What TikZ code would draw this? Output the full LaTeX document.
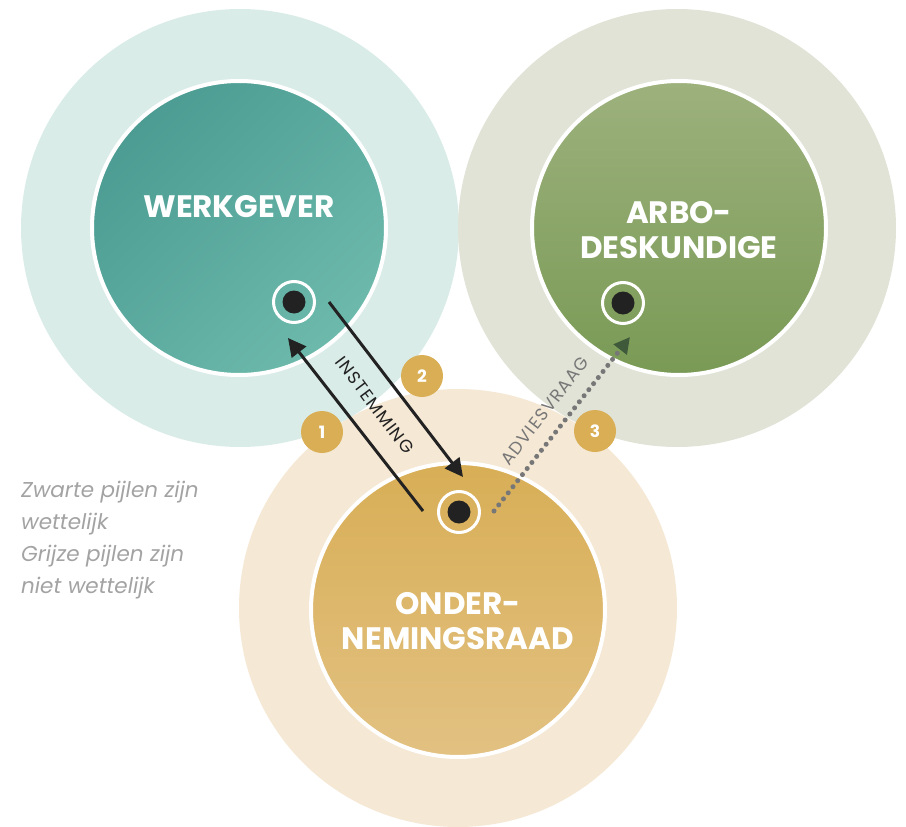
\documentclass[tikz,border=0pt]{standalone}
\usepackage{fontspec}
\setmainfont{Poppins}
\usetikzlibrary{arrows.meta}

\definecolor{wgHalo}{HTML}{DAECE8}
\definecolor{wgDark}{HTML}{4C9C93}
\definecolor{wgLight}{HTML}{6DBAAC}
\definecolor{arHalo}{HTML}{E0E3D6}
\definecolor{arTop}{HTML}{9DB17D}
\definecolor{arBot}{HTML}{799A55}
\definecolor{orHalo}{HTML}{F5E8D5}
\definecolor{orTop}{HTML}{D8AE56}
\definecolor{orBot}{HTML}{E2C182}
\definecolor{badge}{HTML}{D9AE55}
\definecolor{dotInk}{HTML}{222222}
\definecolor{dotGrey}{HTML}{777777}
\definecolor{tipGreen}{HTML}{3F5A3A}
\definecolor{legendGrey}{HTML}{A3A3A3}

\tikzset{
  halo/.style={circle, minimum size=438pt, inner sep=0pt},
  core/.style={circle, minimum size=294pt, inner sep=0pt, draw=white, line width=4pt},
  title/.style={text=white, font=\bfseries\fontsize{31}{35}\selectfont, align=center},
  hub/.style={circle, minimum size=41pt, inner sep=0pt, draw=white, line width=3pt},
  hubdot/.style={circle, minimum size=23pt, inner sep=0pt, fill=dotInk},
  numbadge/.style={circle, minimum size=42pt, inner sep=0pt, fill=badge, text=white,
                   font=\bfseries\fontsize{17}{17}\selectfont},
  legal/.style={line width=3pt, dotInk, -{Triangle[length=18pt,width=18pt]}},
  advisory/.style={line width=5pt, dotGrey, line cap=round, dash pattern=on 0pt off 7.7pt,
                   -{Triangle[length=16pt,width=16pt,color=tipGreen]}},
  arrowlabel/.style={inner sep=1pt, font=\fontsize{17.5}{17.5}\selectfont\addfontfeature{LetterSpace=7}},
  legend/.style={text=legendGrey, inner sep=0pt,
                 font=\itshape\fontsize{21.5}{32}\selectfont, align=left}
}

\begin{document}
\begin{tikzpicture}[x=1pt,y=-1pt]
  \useasboundingbox (0,0) rectangle (906,827);

  % outer halos
  \node[halo, fill=wgHalo] (wgh) at (240,228) {};
  \node[halo, fill=arHalo] (arh) at (677,228) {};
  \node[halo, fill=orHalo] (orh) at (458,608) {};

  % inner discs
  \node[core, top color=wgDark, bottom color=wgLight, shading angle=45] (wg) at (239,228) {};
  \node[core, top color=arTop, bottom color=arBot] (ar) at (679,228) {};
  \node[core, top color=orTop, bottom color=orBot] (or) at (458,610) {};

  % titles
  \node[title] (wgt) at (239,207) {WERKGEVER};
  \node[title] (art) at (679,230) {ARBO-\\DESKUNDIGE};
  \node[title] (ort) at (458,621) {ONDER-\\NEMINGSRAAD};

  % hubs
  \node[hub] (wgc) at (294,302) {};
  \node[hubdot] (wgd) at (294,302) {};
  \node[hub] (arc) at (623,303) {};
  \node[hubdot] (ard) at (623,303) {};
  \node[hub] (orc) at (459,512) {};
  \node[hubdot] (ord) at (459,512) {};

  % arrow end points
  \coordinate (a1s) at (423,511);
  \coordinate (a1e) at (288,338);
  \coordinate (a2s) at (329,302);
  \coordinate (a2e) at (463,477);
  \coordinate (a3s) at (494,511);
  \coordinate (a3e) at (630,337);

  \draw[legal] (a1s) -- (a1e);
  \draw[legal] (a2s) -- (a2e);
  \draw[advisory] (a3s) -- (a3e);

  % arrow labels
  \node[arrowlabel, text=dotInk, rotate=-53] (inst) at (375,405) {INSTEMMING};
  \node[arrowlabel, text=dotGrey, rotate=52] (advr) at (545,411) {ADVIESVRAAG};

  % step numbers
  \node[numbadge] (n1) at (322,432) {1};
  \node[numbadge] (n2) at (422,376) {2};
  \node[numbadge] (n3) at (595,431) {3};

  % legend
  \node[legend, anchor=north west] (leg) at (21,481)
    {Zwarte pijlen zijn\\wettelijk\\Grijze pijlen zijn\\niet wettelijk};
\end{tikzpicture}
\end{document}
